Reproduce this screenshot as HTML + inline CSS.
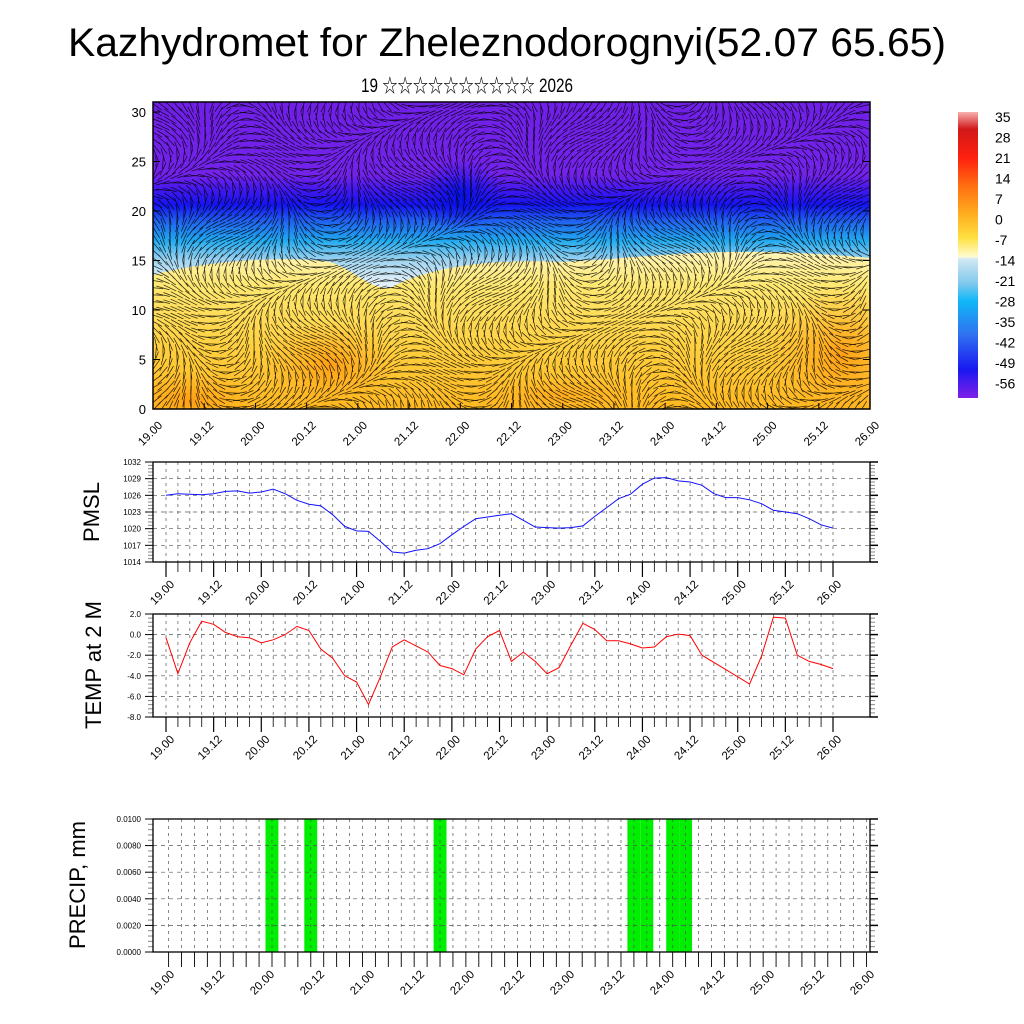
<!DOCTYPE html>
<html><head><meta charset="utf-8"><style>
body{margin:0;background:#fff;}
svg{display:block;font-family:"Liberation Sans","Noto Sans CJK SC",sans-serif;}
</style></head><body>
<svg id="s" width="1024" height="1024" viewBox="0 0 1024 1024">
<defs>
<linearGradient id="upper" gradientUnits="userSpaceOnUse" x1="0" y1="102" x2="0" y2="300">
<stop offset="0" stop-color="#7020e6"/><stop offset="0.37" stop-color="#7322ea"/>
<stop offset="0.44" stop-color="#4418ee"/><stop offset="0.52" stop-color="#1414f0"/>
<stop offset="0.60" stop-color="#2060f0"/><stop offset="0.70" stop-color="#20aaf0"/>
<stop offset="0.80" stop-color="#a0d4f0"/><stop offset="0.90" stop-color="#dceef8"/>
<stop offset="1" stop-color="#f0f8fc"/></linearGradient>
<linearGradient id="lower" gradientUnits="userSpaceOnUse" x1="0" y1="255" x2="0" y2="409">
<stop offset="0" stop-color="#fff4b0"/><stop offset="0.2" stop-color="#ffe870"/>
<stop offset="0.6" stop-color="#ffd040"/><stop offset="1" stop-color="#ffb820"/></linearGradient>
<radialGradient id="blob"><stop offset="0" stop-color="#ff9a10" stop-opacity="0.9"/><stop offset="1" stop-color="#ffb020" stop-opacity="0"/></radialGradient>
<radialGradient id="dark"><stop offset="0" stop-color="#0010e0" stop-opacity="0.9"/><stop offset="1" stop-color="#1010f0" stop-opacity="0"/></radialGradient>
<linearGradient id="cbar" x1="0" y1="0" x2="0" y2="1">
<stop offset="0" stop-color="#f8b0b0"/><stop offset="0.06" stop-color="#d01818"/>
<stop offset="0.16" stop-color="#ff2010"/><stop offset="0.26" stop-color="#ff7010"/>
<stop offset="0.36" stop-color="#ffb020"/><stop offset="0.44" stop-color="#ffe040"/>
<stop offset="0.505" stop-color="#fffcd0"/><stop offset="0.515" stop-color="#d0e8f4"/>
<stop offset="0.6" stop-color="#80c8ec"/><stop offset="0.66" stop-color="#10b8f8"/>
<stop offset="0.78" stop-color="#3070f0"/><stop offset="0.9" stop-color="#1818f0"/>
<stop offset="1" stop-color="#8020e8"/></linearGradient>
<clipPath id="topclip"><rect x="153" y="102" width="717" height="307"/></clipPath>
</defs>

<text x="507" y="56" font-size="40" text-anchor="middle" textLength="878" lengthAdjust="spacingAndGlyphs">Kazhydromet for Zheleznodorognyi(52.07 65.65)</text>
<text x="467" y="92" font-size="19" text-anchor="middle" textLength="212" lengthAdjust="spacingAndGlyphs">19 ☆☆☆☆☆☆☆☆☆☆ 2026</text>

<g id="top" clip-path="url(#topclip)">
<rect x="153" y="102" width="717" height="307" fill="url(#upper)"/>
<ellipse cx="460" cy="195" rx="45" ry="35" fill="url(#dark)"/>
<path d="M153,275 C200,262 280,255 330,262 C355,270 370,290 390,288 C420,272 470,258 560,262 C620,260 680,250 780,252 C820,254 850,256 870,258 L870,409 L153,409 Z" fill="url(#lower)"/>
<ellipse cx="840" cy="355" rx="80" ry="70" fill="url(#blob)"/>
<ellipse cx="330" cy="365" rx="70" ry="45" fill="url(#blob)"/>
<ellipse cx="190" cy="400" rx="70" ry="30" fill="url(#blob)"/>
<ellipse cx="560" cy="395" rx="90" ry="20" fill="url(#blob)" opacity="0.6"/>
<g id="vec" stroke="#000" stroke-width="0.75" stroke-opacity="0.8"></g>
</g>
<rect x="153" y="102" width="717" height="307" fill="none" stroke="#000" stroke-width="1.5"/>
<g id="topaxes"></g>

<g id="cb">
<rect x="958" y="112" width="20" height="286" fill="url(#cbar)"/>
</g>

<g id="p1"></g>
<g id="p2"></g>
<g id="p3"></g>

<text transform="translate(99,512) rotate(-90)" font-size="22" text-anchor="middle">PMSL</text>
<text transform="translate(101,665) rotate(-90)" font-size="22" text-anchor="middle">TEMP at 2 M</text>
<text transform="translate(85,885) rotate(-90)" font-size="22" text-anchor="middle">PRECIP, mm</text>
</svg>
<script>
const timeLabels=["19.00","19.12","20.00","20.12","21.00","21.12","22.00","22.12","23.00","23.12","24.00","24.12","25.00","25.12","26.00"];
const pmsl=[1026,1026.3,1026.2,1026.1,1026.3,1026.7,1026.8,1026.4,1026.6,1027.1,1026.3,1025.1,1024.4,1024.1,1022.5,1020.4,1019.6,1019.5,1017.7,1015.8,1015.6,1016.1,1016.4,1017.3,1018.9,1020.4,1021.8,1022.1,1022.4,1022.7,1021.5,1020.3,1020.2,1020.1,1020.2,1020.5,1022.2,1023.8,1025.4,1026.2,1028.0,1029.1,1029.2,1028.6,1028.4,1027.8,1026.3,1025.6,1025.6,1025.2,1024.5,1023.3,1023.0,1022.7,1021.8,1020.7,1020.1];
const temp=[-0.3,-3.8,-0.8,1.3,1.0,0.2,-0.2,-0.3,-0.8,-0.5,0,0.8,0.4,-1.4,-2.3,-4,-4.6,-6.8,-4.1,-1.2,-0.5,-1.1,-1.7,-3,-3.3,-3.9,-1.4,-0.2,0.4,-2.6,-1.7,-2.6,-3.8,-3.2,-1,1.1,0.5,-0.6,-0.6,-0.9,-1.3,-1.2,-0.2,0.05,-0.1,-2,-2.7,-3.4,-4.1,-4.8,-2.1,1.7,1.6,-2,-2.6,-2.9,-3.3];
const precipBins=[8,11,21,36,37,39,40];
const precipVals=[0.01,0.01,0.01,0.01,0.01,0.01,0.01];
const pmslTicks=[1014,1017,1020,1023,1026,1029,1032];
const tempTicks=[-8,-6,-4,-2,0,2];
const tempTickLabels=["-8.0","-6.0","-4.0","-2.0","0.0","2.0"];
const precipTicks=[0,0.002,0.004,0.006,0.008,0.01];
const precipTickLabels=["0.0000","0.0020","0.0040","0.0060","0.0080","0.0100"];
const topTicks=[0,5,10,15,20,25,30];
const cbLabels=["35","28","21","14","7","0","-7","-14","-21","-28","-35","-42","-49","-56"];

const NS="http://www.w3.org/2000/svg";
function mk(parent,tag,attrs,text){const e=document.createElementNS(NS,tag);for(const k in attrs)e.setAttribute(k,attrs[k]);if(text!==undefined)e.textContent=text;parent.appendChild(e);return e;}

const ta=document.getElementById('topaxes');
const topY=v=>409-v*9.9;
topTicks.forEach(v=>{
 const t=mk(ta,'text',{x:146,y:topY(v)+5,'font-size':13,'text-anchor':'end'},String(v));
 
 
 mk(ta,'line',{x1:153,x2:160,y1:topY(v),y2:topY(v),stroke:'#000'});
 mk(ta,'line',{x1:863,x2:870,y1:topY(v),y2:topY(v),stroke:'#000'});
});
timeLabels.forEach((l,i)=>{
 const x=153+i*717/14;
 mk(ta,'line',{x1:x,x2:x,y1:409,y2:403,stroke:'#000'});
 const t=mk(ta,'text',{transform:`translate(${x+10},${426}) rotate(-45)`,'font-size':11.5,'text-anchor':'end'},l);
 
 
});
const vg=document.getElementById('vec');
let d='';
for(let y=106;y<409;y+=7){for(let x=156;x<870;x+=7){
 const a=Math.sin(x*0.021+y*0.013)*1.6+Math.cos(y*0.035-x*0.008)*1.2;
 const L=7;d+=`M${(x-L*Math.cos(a)).toFixed(1)},${(y-L*Math.sin(a)).toFixed(1)}L${(x+L*Math.cos(a)).toFixed(1)},${(y+L*Math.sin(a)).toFixed(1)}`;
}}
mk(vg,'path',{d:d,fill:'none'});

const cb=document.getElementById('cb');
cbLabels.forEach((l,i)=>{
 const t=mk(cb,'text',{x:995,y:122+i*20.5,'font-size':14},l);
 
 
});

function panel(g,top,bot,vmin,vmax,ticks,tlabels,series,color,name,labelY){
 const X0=153,X1=870,dx0=166,step=(833-166)/56;
 const y=v=>bot-(v-vmin)/(vmax-vmin)*(bot-top);
 const xs=i=>dx0+i*step;
 for(let i=0;i<57;i++) mk(g,'line',{x1:xs(i),x2:xs(i),y1:top,y2:bot,stroke:'#555','stroke-width':0.7,'stroke-dasharray':'3,4'});
 ticks.forEach((v,k)=>{
  mk(g,'line',{x1:X0,x2:X1,y1:y(v),y2:y(v),stroke:'#555','stroke-width':0.7,'stroke-dasharray':'4,4'});
  mk(g,'line',{x1:X0-8,x2:X0,y1:y(v),y2:y(v),stroke:'#000'});
  mk(g,'line',{x1:X1,x2:X1+8,y1:y(v),y2:y(v),stroke:'#000','stroke-width':1.5});
  const t=mk(g,'text',{x:X0-12,y:y(v)+3,'font-size':8,'text-anchor':'end'},tlabels[k]);
  
  
  if(k<ticks.length-1){for(let m=1;m<5;m++){const yy=y(v)+(y(ticks[k+1])-y(v))*m/5;
   mk(g,'line',{x1:X0-5,x2:X0,y1:yy,y2:yy,stroke:'#888'});mk(g,'line',{x1:X1,x2:X1+5,y1:yy,y2:yy,stroke:'#888'});}}
 });
 for(let i=0;i<57;i++){const big=i%4===0;mk(g,'line',{x1:xs(i),x2:xs(i),y1:bot,y2:bot+(big?15:10),stroke:'#000','stroke-width':big?1.2:0.8});}
 mk(g,'rect',{x:X0,y:top,width:X1-X0,height:bot-top,fill:'none',stroke:'#000','stroke-width':1.3});
 const p=mk(g,'polyline',{points:series.map((v,i)=>xs(i).toFixed(1)+','+y(v).toFixed(1)).join(' '),fill:'none',stroke:color,'stroke-width':1});
 
 
 timeLabels.forEach((l,i)=>{const x=xs(i*4);
  const t=mk(g,'text',{transform:`translate(${x+9},${labelY+3}) rotate(-45)`,'font-size':11.5,'text-anchor':'end'},l);
  
  
 });
}
panel(document.getElementById('p1'),462,562,1014,1032,pmslTicks,pmslTicks.map(String),pmsl,'#1010ff','pmsl',582);
panel(document.getElementById('p2'),614,717,-8,2,tempTicks,tempTickLabels,temp,'#ff0000','temp',737);

(function(){
 const g=document.getElementById('p3');
 const X0=153,X1=870,top=819,bot=952,x0=168.6,bw=12.925;
 const y=v=>bot-v/0.01*(bot-top);
 precipBins.forEach((b,k)=>{
  const r=mk(g,'rect',{x:(x0+b*bw-bw/2).toFixed(1),y:y(precipVals[k]),width:bw,height:bot-y(precipVals[k]),fill:'#00ee00'});
  
  
 });
 for(let i=0;i<=55;i++){const x=x0+i*bw;if(x>X1)break;mk(g,'line',{x1:x,x2:x,y1:top,y2:bot,stroke:'#555','stroke-width':0.7,'stroke-dasharray':'3,4'});}
 precipTicks.forEach((v,k)=>{
  mk(g,'line',{x1:X0,x2:X1,y1:y(v),y2:y(v),stroke:'#555','stroke-width':0.7,'stroke-dasharray':'4,4'});
  mk(g,'line',{x1:X0-8,x2:X0,y1:y(v),y2:y(v),stroke:'#000'});
  mk(g,'line',{x1:X1,x2:X1+8,y1:y(v),y2:y(v),stroke:'#000','stroke-width':1.5});
  const t=mk(g,'text',{x:X0-12,y:y(v)+3,'font-size':8,'text-anchor':'end'},precipTickLabels[k]);
  
  
  if(k<precipTicks.length-1){for(let m=1;m<5;m++){const yy=y(v)+(y(precipTicks[k+1])-y(v))*m/5;
   mk(g,'line',{x1:X0-5,x2:X0,y1:yy,y2:yy,stroke:'#888'});mk(g,'line',{x1:X1,x2:X1+5,y1:yy,y2:yy,stroke:'#888'});}}
 });
 for(let i=0;i<=56;i++){const x=x0+i*bw;if(x>X1+1)break;mk(g,'line',{x1:x,x2:x,y1:bot,y2:bot+15,stroke:'#000','stroke-width':0.9});}
 mk(g,'rect',{x:X0,y:top,width:X1-X0,height:bot-top,fill:'none',stroke:'#000','stroke-width':1.3});
 const lstep=(866-166)/14;
 timeLabels.forEach((l,i)=>{const x=166+i*lstep;
  const t=mk(g,'text',{transform:`translate(${x+9},${975}) rotate(-45)`,'font-size':11.5,'text-anchor':'end'},l);
  
  
 });
})();
</script>
</body></html>
